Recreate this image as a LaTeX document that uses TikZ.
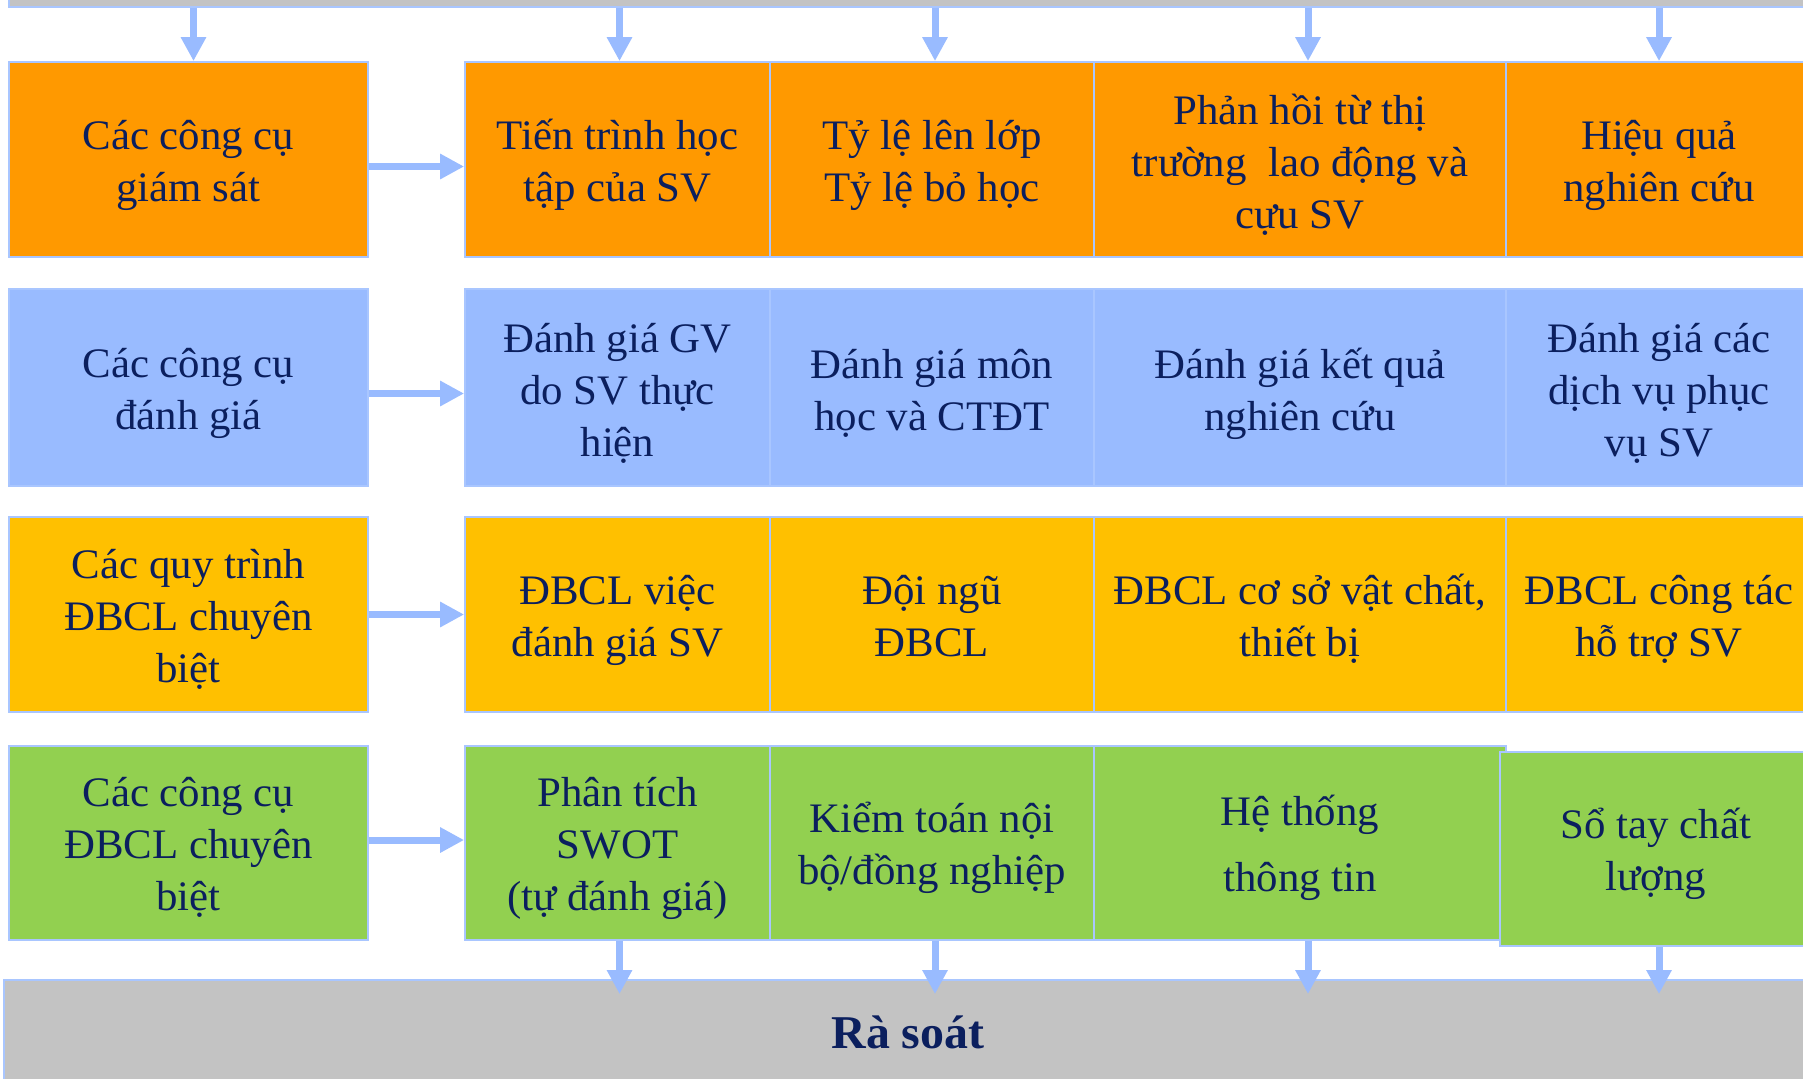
\documentclass[tikz,border=0pt]{standalone}
\usepackage{fontspec}
\setmainfont{Liberation Serif}[FakeStretch=1.02]
\usetikzlibrary{arrows.meta}
\definecolor{orangefill}{HTML}{FF9900}
\definecolor{bluefill}{HTML}{99BBFF}
\definecolor{yellowfill}{HTML}{FFC000}
\definecolor{greenfill}{HTML}{92D050}
\definecolor{grayfill}{HTML}{C3C3C3}
\definecolor{edge}{HTML}{A9C6FF}
\definecolor{ink}{HTML}{0B1F5E}
\definecolor{flow}{HTML}{99BBFF}

% centred lines of a cell, spaced by strut height; the text is lowered
% a little while the box keeps its natural extent for centring
\newcommand{\celllines}[2][-3pt]{\raisebox{#1}[\height][\depth]{\begin{tabular}{@{}c@{}}#2\end{tabular}}}

\begin{document}
\begin{tikzpicture}[x=0.5pt,y=-0.5pt,
  cell/.style={rectangle, draw=edge, line width=0.9pt, inner sep=0pt,
    text=ink, font=\fontsize{21}{26}\selectfont},
  colL/.style={minimum width=179.5pt},
  colA/.style={minimum width=152.5pt},
  colB/.style={minimum width=162pt},
  colC/.style={minimum width=206pt},
  colD/.style={minimum width=153pt},
  rowA/.style={fill=orangefill, minimum height=97.5pt},
  rowB/.style={fill=bluefill, minimum height=98.5pt},
  rowC/.style={fill=yellowfill, minimum height=97.5pt},
  rowD/.style={fill=greenfill, minimum height=97pt},
  bar/.style={rectangle, draw=edge, line width=1pt, fill=grayfill, inner sep=0pt},
  flowarrow/.style={draw=flow, line width=3.5pt, -{Triangle[length=12pt,width=12pt]}}
]
\useasboundingbox (0,0) rectangle (1803,1078);

% review bars
\node[bar, minimum width=901.5pt, minimum height=23.5pt] (topbar) at (910.5,-16.5) {};
\node[bar, minimum width=904pt, minimum height=52pt, text=ink,
      font=\fontsize{23.5}{28}\selectfont\bfseries] (review) at (908,1032) {Rà soát};

% row 1: monitoring tools
\node[cell, colL, rowA] (L1) at (188.5,159.5) {\celllines{Các công cụ\\giám sát}};
\node[cell, colA, rowA] (A1) at (617.5,159.5) {\celllines{Tiến trình học\\tập của SV}};
\node[cell, colB, rowA] (B1) at (932,159.5) {\celllines{Tỷ lệ lên lớp\\Tỷ lệ bỏ học}};
\node[cell, colC, rowA] (C1) at (1300,159.5) {\celllines[-3.5pt]{Phản hồi từ thị\\trường~~lao động và\\cựu SV}};
\node[cell, colD, rowA] (D1) at (1659,159.5) {\celllines{Hiệu quả\\nghiên cứu}};

% row 2: evaluation tools
\node[cell, colL, rowB] (L2) at (188.5,387.5) {\celllines{Các công cụ\\đánh giá}};
\node[cell, colA, rowB] (A2) at (617.5,387.5) {\celllines[-3.5pt]{Đánh giá GV\\do SV thực\\hiện}};
\node[cell, colB, rowB] (B2) at (932,387.5) {\celllines[-3.5pt]{Đánh giá môn\\học và CTĐT}};
\node[cell, colC, rowB] (C2) at (1300,387.5) {\celllines[-3.5pt]{Đánh giá kết quả\\nghiên cứu}};
\node[cell, colD, rowB] (D2) at (1659,387.5) {\celllines[-3.5pt]{Đánh giá các\\dịch vụ phục\\vụ SV}};

% row 3: specific QA procedures
\node[cell, colL, rowC] (L3) at (188.5,614.5) {\celllines{Các quy trình\\ĐBCL chuyên\\biệt}};
\node[cell, colA, rowC] (A3) at (617.5,614.5) {\celllines{ĐBCL việc\\đánh giá SV}};
\node[cell, colB, rowC] (B3) at (932,614.5) {\celllines{Đội ngũ\\ĐBCL}};
\node[cell, colC, rowC] (C3) at (1300,614.5) {\celllines{ĐBCL cơ sở vật chất,\\thiết bị}};
\node[cell, colD, rowC] (D3) at (1659,614.5) {\celllines{ĐBCL công tác\\hỗ trợ SV}};

% row 4: specific QA tools
\node[cell, colL, rowD] (L4) at (188.5,843) {\celllines[-2.5pt]{Các công cụ\\ĐBCL chuyên\\biệt}};
\node[cell, colA, rowD] (A4) at (617.5,843) {\celllines[-2.5pt]{Phân tích\\SWOT\\(tự đánh giá)}};
\node[cell, colB, rowD] (B4) at (932,843) {\celllines[-2.5pt]{Kiểm toán nội\\bộ/đồng nghiệp}};
\node[cell, colC, rowD, font=\fontsize{21}{33}\selectfont] (C4) at (1300,843) {\celllines[-1.2pt]{Hệ thống\\thông tin}};
\node[cell, rowD, minimum width=156pt] (D4) at (1656,849) {\celllines[-2.3pt]{Sổ tay chất\\lượng}};

% arrows from the label column into each row
\draw[flowarrow] ([yshift=-3.5pt]L1.east) -- ([yshift=-3.5pt]L1.east -| A1.west);
\draw[flowarrow] ([yshift=-3pt]L2.east) -- ([yshift=-3pt]L2.east -| A2.west);
\draw[flowarrow] (L3.east) -- (L3.east -| A3.west);
\draw[flowarrow] ([yshift=1.5pt]L4.east) -- ([yshift=1.5pt]L4.east -| A4.west);

% arrows from the top bar down to the first row
\coordinate (tL) at ([xshift=2.5pt]L1.north);
\coordinate (tA) at ([xshift=1pt]A1.north);
\coordinate (tB) at ([xshift=1.5pt]B1.north);
\coordinate (tC) at ([xshift=4pt]C1.north);
\coordinate (tD) at (D1.north);
\foreach \t in {tL,tA,tB,tC,tD}
  \draw[flowarrow] (\t |- topbar.south) -- (\t);

% arrows from the last row down into the review bar
\draw[flowarrow, shorten >=-7.5pt] ([xshift=1pt]A4.south) -- ([xshift=1pt]A4.south |- review.north);
\draw[flowarrow, shorten >=-7.5pt] ([xshift=1.5pt]B4.south) -- ([xshift=1.5pt]B4.south |- review.north);
\draw[flowarrow, shorten >=-7.5pt] ([xshift=4pt]C4.south) -- ([xshift=4pt]C4.south |- review.north);
\draw[flowarrow, shorten >=-7.5pt] ([xshift=1.5pt]D4.south) -- ([xshift=1.5pt]D4.south |- review.north);
\end{tikzpicture}
\end{document}
